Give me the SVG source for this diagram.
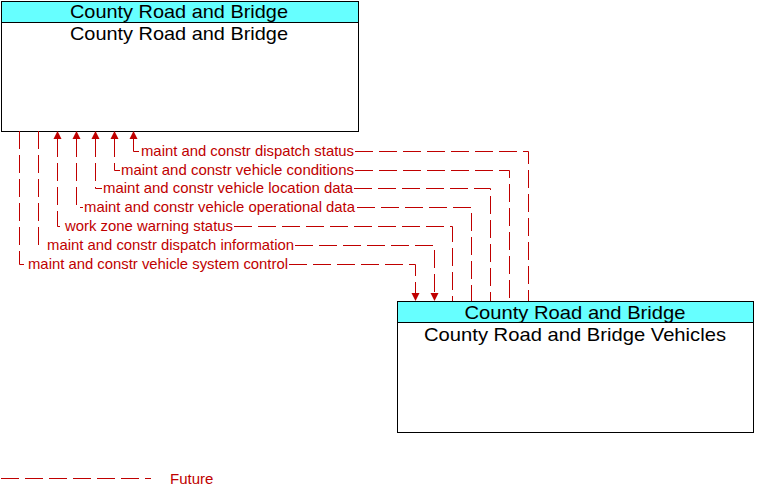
<svg xmlns="http://www.w3.org/2000/svg" width="764" height="497" viewBox="0 0 764 497">
<style>
.box{fill:#ffffff;stroke:#000000;stroke-width:1}
.hdr{fill:#66ffff;stroke:#000000;stroke-width:1}
.title{font-family:"Liberation Sans",Arial,sans-serif;font-size:19px;fill:#000000;text-anchor:middle}
.flow{fill:none;stroke:#c00000;stroke-width:1;stroke-dasharray:18 6}
.solid{fill:none;stroke:#c00000;stroke-width:1}
.lbl{font-family:"Liberation Sans",Arial,sans-serif;font-size:15px;fill:#c00000}
.arr{fill:#c00000}
</style>
<rect width="764" height="497" fill="#ffffff"/>
<g id="node-crb">
<rect class="box" x="1.5" y="1.5" width="357" height="130"/>
<rect class="hdr" x="1.5" y="1.5" width="357" height="21"/>
<text class="title" x="179" y="18" textLength="218" lengthAdjust="spacingAndGlyphs">County Road and Bridge</text>
<text class="title" x="179" y="40" textLength="218" lengthAdjust="spacingAndGlyphs">County Road and Bridge</text>
</g>
<g id="node-crbv">
<rect class="box" x="397.5" y="301.5" width="356" height="131"/>
<rect class="hdr" x="397.5" y="301.5" width="356" height="21"/>
<text class="title" x="575" y="319" textLength="221" lengthAdjust="spacingAndGlyphs">County Road and Bridge</text>
<text class="title" x="575" y="341" textLength="302" lengthAdjust="spacingAndGlyphs">County Road and Bridge Vehicles</text>
</g>
<g id="connectors">
<!-- 1 dispatch status -->
<path class="solid" d="M133.5,139 V151.5 H139"/>
<path class="flow" d="M355,151.5 H528.5 V301"/>
<polygon class="arr" points="133.5,131 129.5,139 137.5,139"/>
<text class="lbl" x="141" y="156" textLength="213" lengthAdjust="spacingAndGlyphs">maint and constr dispatch status</text>
<!-- 2 vehicle conditions -->
<path class="flow" d="M114.5,139 V170.5 H120"/>
<path class="flow" d="M355,170.5 H509.5 V301"/>
<polygon class="arr" points="114.5,131 110.5,139 118.5,139"/>
<text class="lbl" x="121" y="175" textLength="233" lengthAdjust="spacingAndGlyphs">maint and constr vehicle conditions</text>
<!-- 3 vehicle location data -->
<path class="flow" d="M95.5,139 V188.5 H102"/>
<path class="flow" d="M354,188.5 H490.5 V301"/>
<polygon class="arr" points="95.5,131 91.5,139 99.5,139"/>
<text class="lbl" x="103" y="193" textLength="250" lengthAdjust="spacingAndGlyphs">maint and constr vehicle location data</text>
<!-- 4 vehicle operational data -->
<path class="flow" d="M76.5,139 V207.5 H83"/>
<path class="flow" d="M357,207.5 H471.5 V301"/>
<polygon class="arr" points="76.5,131 72.5,139 80.5,139"/>
<text class="lbl" x="84" y="212" textLength="271" lengthAdjust="spacingAndGlyphs">maint and constr vehicle operational data</text>
<!-- 5 work zone warning status -->
<path class="flow" d="M57.5,139 V226.5 H64"/>
<path class="flow" d="M234,226.5 H452.5 V301"/>
<polygon class="arr" points="57.5,131 53.5,139 61.5,139"/>
<text class="lbl" x="65" y="231" textLength="168" lengthAdjust="spacingAndGlyphs">work zone warning status</text>
<!-- 6 dispatch information -->
<path class="flow" d="M38.5,131 V245.5"/>
<path class="flow" d="M295,245.5 H434.5 V293"/>
<polygon class="arr" points="434.5,301 430.5,293 438.5,293"/>
<text class="lbl" x="47" y="250" textLength="247" lengthAdjust="spacingAndGlyphs">maint and constr dispatch information</text>
<!-- 7 vehicle system control -->
<path class="flow" d="M19.5,131 V264.5 H27"/>
<path class="flow" d="M289,264.5 H415.5 V293"/>
<polygon class="arr" points="415.5,301 411.5,293 419.5,293"/>
<text class="lbl" x="28" y="269" textLength="260" lengthAdjust="spacingAndGlyphs">maint and constr vehicle system control</text>
</g>
<g id="legend">
<path class="flow" d="M1,478.5 H151"/>
<text class="lbl" x="170" y="484">Future</text>
</g>
</svg>
